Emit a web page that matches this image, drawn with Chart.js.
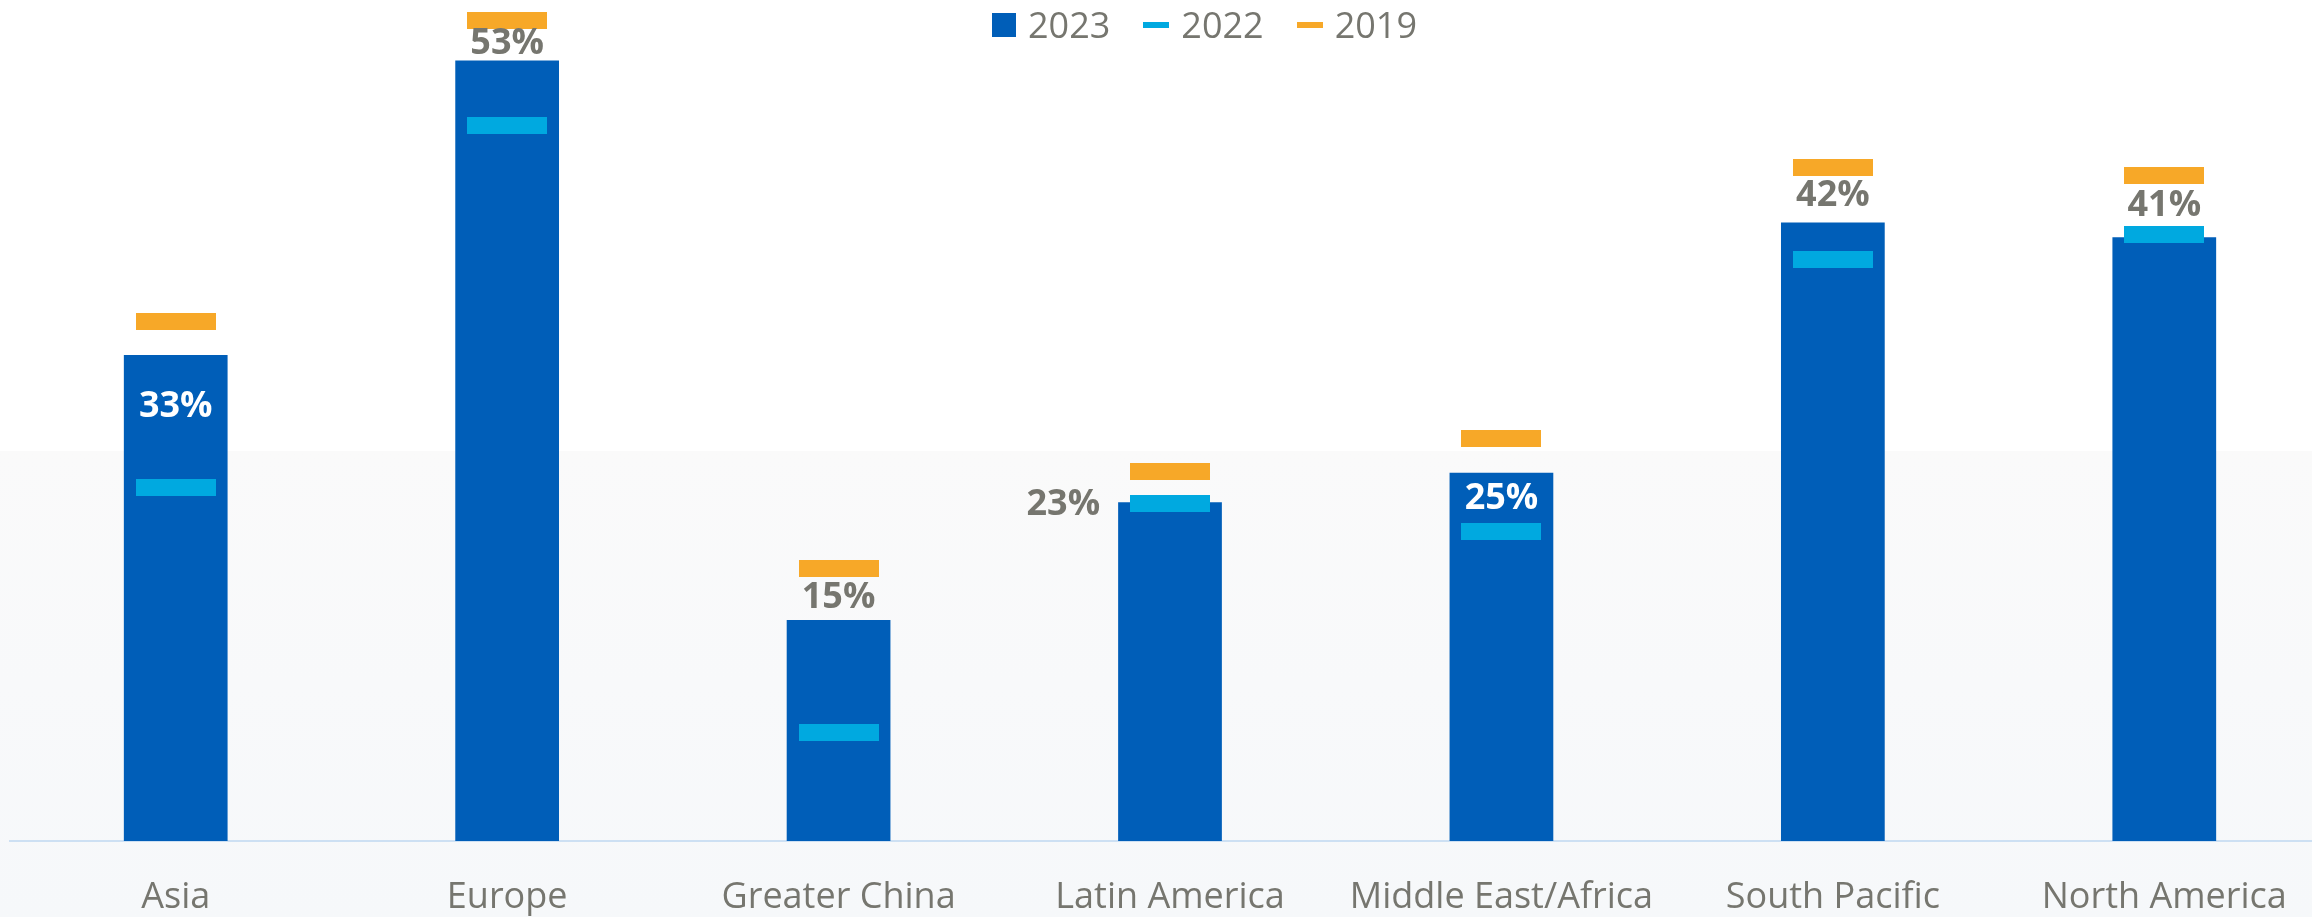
<!DOCTYPE html>
<html>
<head>
<meta charset="utf-8">
<title>Share by region</title>
<script src="https://cdn.jsdelivr.net/npm/chart.js@4.4.1/dist/chart.umd.min.js"></script>
<style>
  html, body { margin: 0; padding: 0; width: 2312px; height: 917px; overflow: hidden; }
  body {
    font-family: 'Open Sans', sans-serif;
    background: linear-gradient(to bottom, #ffffff 0px, #ffffff 451px, #fafafa 451px, #f6f8fa 917px);
  }
  #wrap { position: relative; width: 2336px; height: 917px; }
  #legend {
    position: absolute; left: 992px; top: 0; height: 49px;
    display: flex; align-items: center;
    font-size: 36px; color: #76766f;
  }
  #legend .item { display: flex; align-items: center; margin-right: 33px; }
  #legend .mark { margin-right: 12px; }
</style>
</head>
<body>
<div id="wrap">
  <canvas id="chart" width="2336" height="917"></canvas>
  <div id="legend"></div>
</div>
<script>
// categories + values (percent)
const regions = ['Asia', 'Europe', 'Greater China', 'Latin America', 'Middle East/Africa', 'South Pacific', 'North America'];
const share2023 = [33, 53, 15, 23, 25, 42, 41];
const share2022 = [24.0, 48.6, 7.4, 22.9, 21.0, 39.5, 41.2];
const share2019 = [35.3, 55.7, 18.5, 25.1, 27.3, 45.7, 45.2];

// where the value label goes for each bar
const labelPlacement = ['inside', 'above', 'above', 'left', 'inside', 'above', 'above'];
const labelShift = [52, -17, -22, 2, 26, -27, -31];

const BLUE = '#005eb8';
const CYAN = '#00a9e0';
const ORANGE = '#f7a828';
const GREY = '#76766f';

// little rectangle used as the marker for 2022 / 2019
function makeDash(color, w, h) {
    const c = document.createElement('canvas');
    c.width = w;
    c.height = h;
    const g = c.getContext('2d');
    g.fillStyle = color;
    g.fillRect(0, 0, w, h);
    return c;
}

const barLabels = {
    id: 'barLabels',
    afterDatasetsDraw(chart) {
        const ctx = chart.ctx;
        const meta = chart.getDatasetMeta(0);
        ctx.save();
        ctx.font = 'bold 36px "Open Sans"';
        ctx.textBaseline = 'middle';
        meta.data.forEach((bar, i) => {
            const text = share2023[i] + '%';
            const y = bar.y + labelShift[i];
            if (labelPlacement[i] === 'left') {
                ctx.textAlign = 'right';
                ctx.fillStyle = GREY;
                ctx.fillText(text, bar.x - bar.width / 2 - 18, y);
            } else {
                ctx.textAlign = 'center';
                ctx.fillStyle = labelPlacement[i] === 'inside' ? '#ffffff' : GREY;
                ctx.fillText(text, bar.x, y);
            }
        });
        ctx.restore();
    }
};

const chart = new Chart(document.getElementById('chart'), {
    type: 'bar',
    data: {
        labels: regions,
        datasets: [
            {
                label: '2023',
                data: share2023,
                backgroundColor: BLUE,
                borderWidth: 0,
                categoryPercentage: 1,
                barPercentage: 0.313,
                order: 2
            },
            {
                type: 'line',
                label: '2022',
                data: share2022,
                showLine: false,
                pointStyle: makeDash(CYAN, 80, 17),
                pointRadius: 5,
                backgroundColor: CYAN,
                order: 1
            },
            {
                type: 'line',
                label: '2019',
                data: share2019,
                showLine: false,
                pointStyle: makeDash(ORANGE, 80, 17),
                pointRadius: 5,
                backgroundColor: ORANGE,
                order: 1
            }
        ]
    },
    options: {
        responsive: false,
        animation: false,
        layout: { padding: { left: 10, right: 0, top: 0, bottom: 1 } },
        scales: {
            x: {
                grid: { display: false, drawTicks: false },
                border: { display: true, color: '#cde0f3', width: 2 },
                ticks: {
                    color: GREY,
                    font: { family: 'Open Sans', size: 36 },
                    padding: 35,
                    autoSkip: false,
                    maxRotation: 0
                },
                afterFit(scale) {
                    scale.height = 75;
                }
            },
            y: { display: false, min: 0, max: 56.7 }
        },
        plugins: {
            legend: { display: false },
            tooltip: { enabled: false }
        }
    },
    plugins: [barLabels]
});

// html legend built from the datasets
const legendEl = document.getElementById('legend');
chart.data.datasets.forEach((ds, i) => {
    const item = document.createElement('div');
    item.className = 'item';
    const mark = document.createElement('span');
    mark.className = 'mark';
    mark.style.background = ds.backgroundColor;
    mark.style.width = i === 0 ? '24px' : '26px';
    mark.style.height = i === 0 ? '24px' : '6px';
    const txt = document.createElement('span');
    txt.textContent = ds.label;
    item.appendChild(mark);
    item.appendChild(txt);
    legendEl.appendChild(item);
});
</script>
</body>
</html>
